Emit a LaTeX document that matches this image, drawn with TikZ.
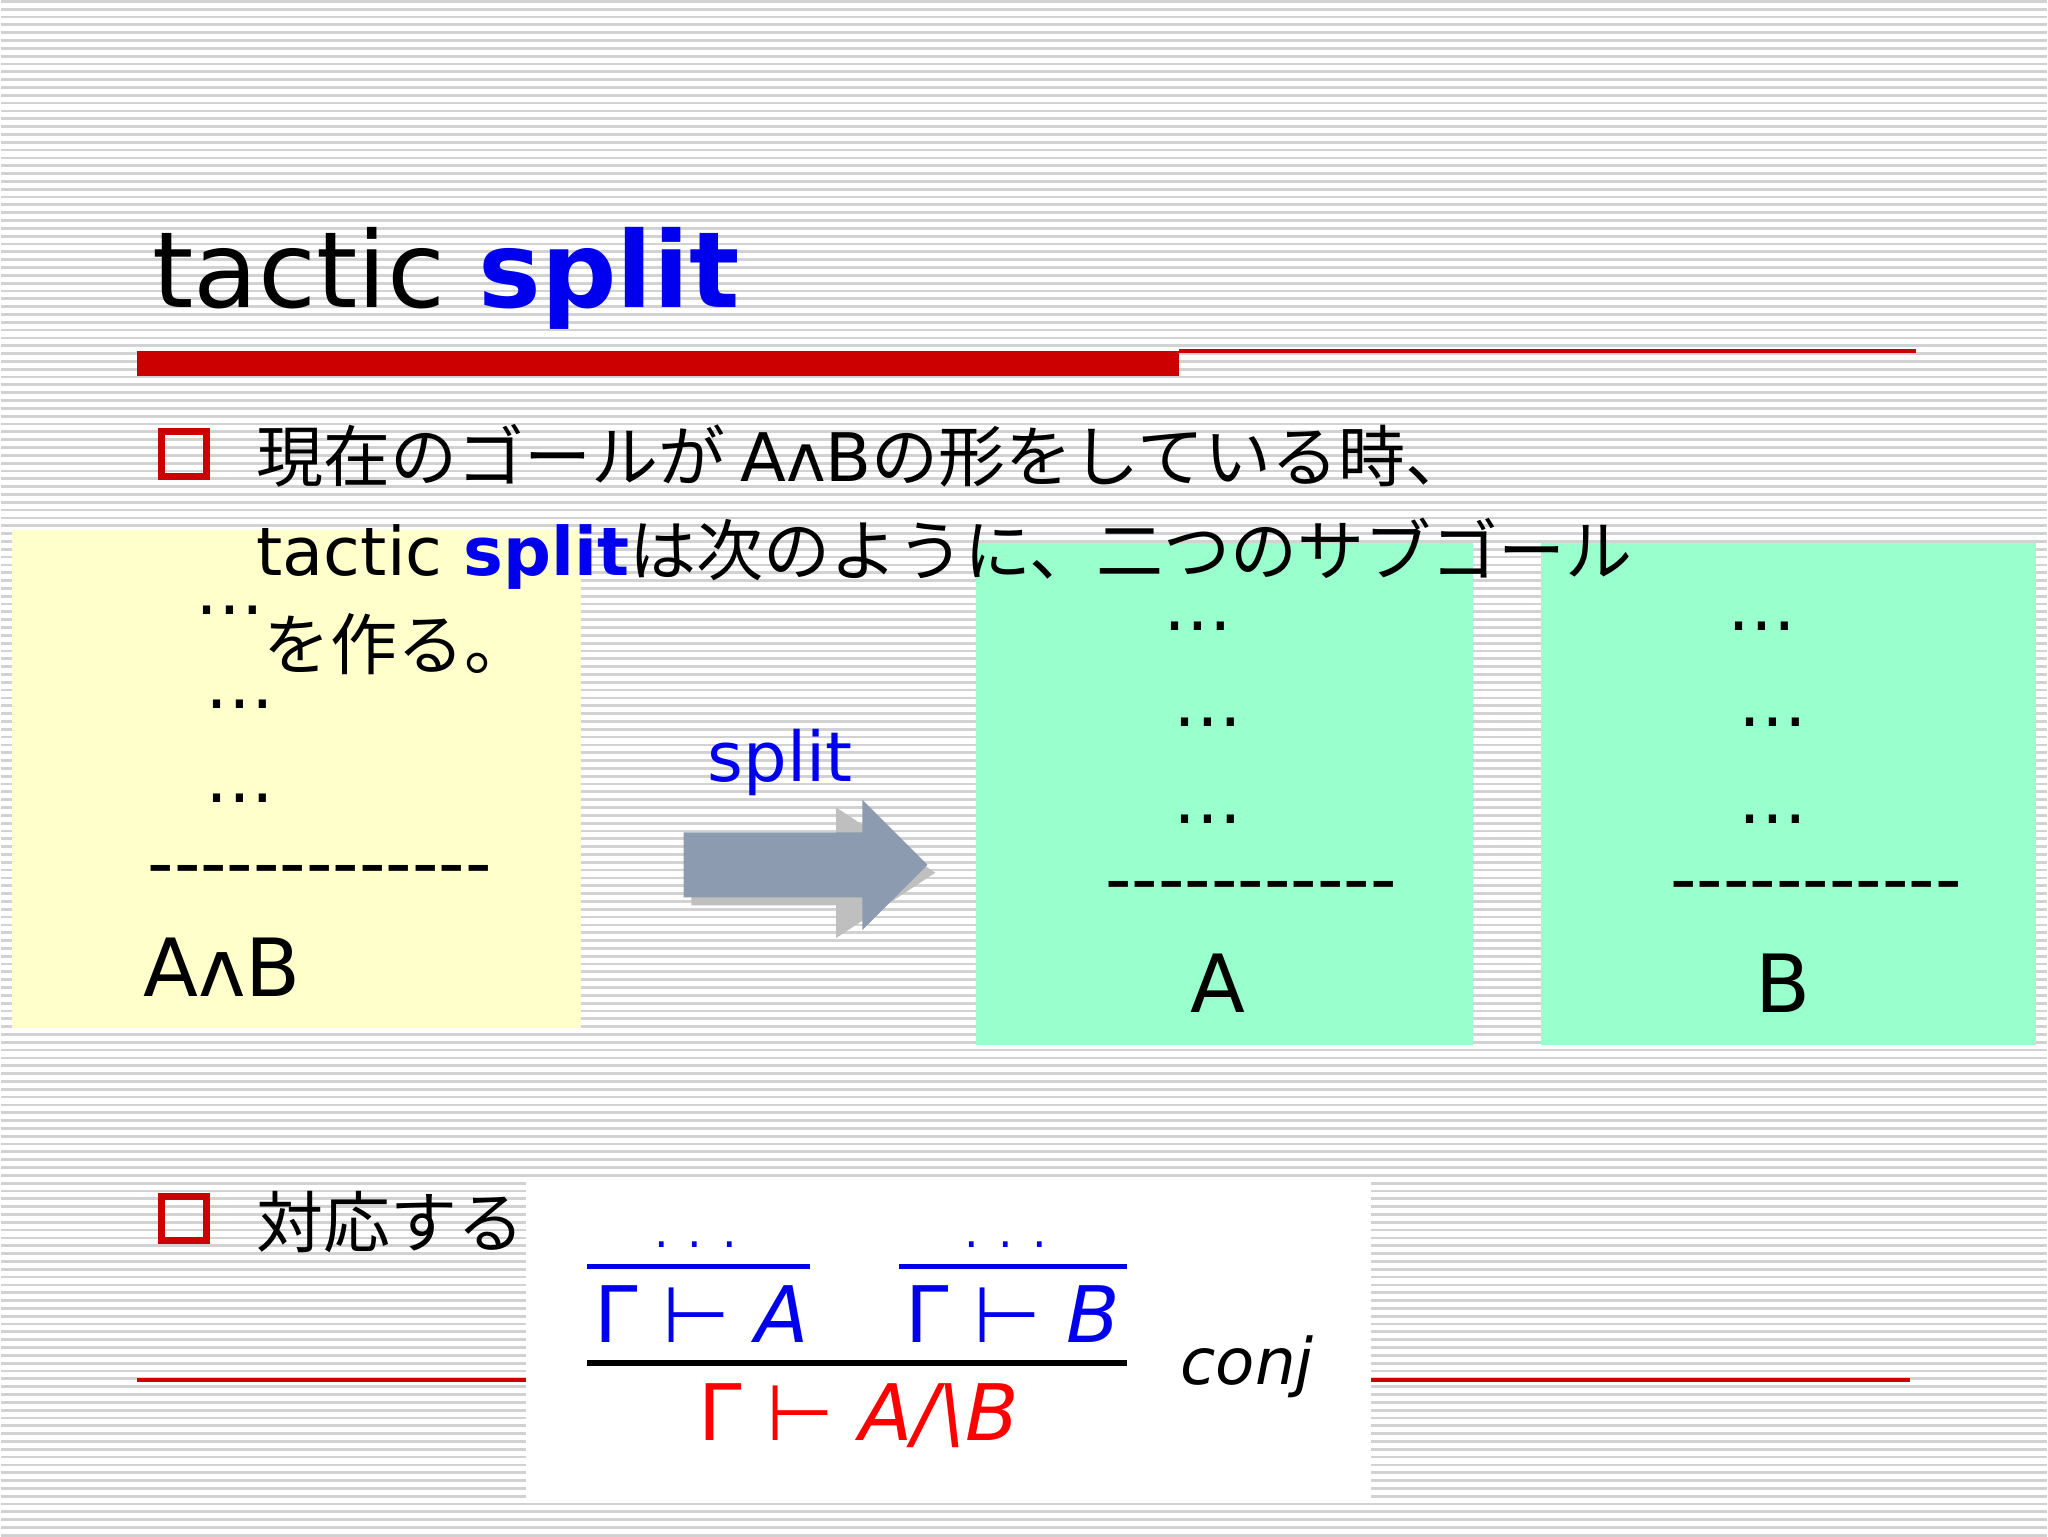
\documentclass[tikz,border=0pt]{standalone}
\usepackage{fontspec}
\setmainfont{DejaVu Sans}
\newfontfamily\jp{Noto Sans CJK JP}
\definecolor{myred}{HTML}{CC0000}
\definecolor{myblue}{HTML}{0000EE}
\definecolor{ybox}{HTML}{FFFFCC}
\definecolor{gbox}{HTML}{99FFCC}
\definecolor{arrg}{HTML}{8C9BB0}
\newcommand{\hy}{-{}}
\tikzset{body/.style={anchor=base west,inner sep=0pt,font=\fontsize{14.6}{18}\selectfont},
 dots/.style={anchor=base,inner sep=0pt,font=\fontsize{15}{18}\selectfont},
 dashline/.style={anchor=base,inner sep=0pt,font=\fontsize{16}{18}\selectfont},
 bul/.style={draw=myred,line width=1.6pt,minimum size=0.34cm,inner sep=0pt}}
\begin{document}
\begin{tikzpicture}[x=0.01cm,y=-0.01cm]
\fill[white] (0,0) rectangle (1568,1176);
\foreach \i in {0,6,...,1176}{\draw[gray!35,line width=0.6pt] (0,\i) -- (1568,\i);}
\node[anchor=base west,inner sep=0pt,font=\fontsize{23}{28}\selectfont] (title) at (115,235) {tactic \textcolor{myblue}{\bfseries split}};
\fill[myred] (104,268) rectangle (903,287);
\draw[myred,line width=0.8pt] (903,268) -- (1468,268);
\fill[ybox] (8,405) rectangle (444,787);
\fill[gbox] (747,415) rectangle (1128,800);
\fill[gbox] (1180,415) rectangle (1560,800);
\node[bul] (b1) at (140,347) {};
\node[bul] (b2) at (140,933) {};
\node[body] (l1) at (195,368) {\jp 現在のゴールが \rmfamily AʌB\jp の形をしている時、};
\node[body] (l2) at (195,440) {tactic \textcolor{myblue}{\bfseries split}\jp は次のように、二つのサブゴール};
\node[body] (l3) at (200,512) {\jp を作る。};
\node[dots] (y1) at (175,470) {…};
\node[dots] (y2) at (183,542) {…};
\node[dots] (y3) at (183,614) {…};
\node[dashline] (y4) at (244,680) {\hy\hy\hy\hy\hy\hy\hy\hy\hy\hy\hy\hy\hy};
\node[body] (y5) at (108,763) {\fontsize{17.5}{22}\selectfont AʌB};
\fill[black!25] (529,643) -- (640,643) -- (640,618) -- (716,668) -- (640,718) -- (640,693) -- (529,693) -- cycle;
\fill[arrg] (523,637) -- (660,637) -- (660,612) -- (710,662) -- (660,712) -- (660,687) -- (523,687) -- cycle;
\node[anchor=base,inner sep=0pt,text=myblue,font=\fontsize{15}{18}\selectfont] (sp) at (597,598) {split};
\foreach \x/\n in {917/a,1350/b}{
 \node[dots] (\n1) at (\x,482) {…};
 \node[dots] (\n2) at (\x+8,556) {…};
 \node[dots] (\n3) at (\x+8,630) {…};
 \node[dashline] (\n4) at (\x+41,692) {\hy\hy\hy\hy\hy\hy\hy\hy\hy\hy\hy};}
\node[anchor=base,inner sep=0pt,font=\fontsize{17.5}{22}\selectfont] (A) at (933,775) {A};
\node[anchor=base,inner sep=0pt,font=\fontsize{17.5}{22}\selectfont] (B) at (1366,775) {B};
\node[body] (l4) at (195,955) {\jp 対応する推論規則};
\draw[myred,line width=0.8pt] (104,1057) -- (1463,1057);
\fill[white] (402,905) rectangle (1050,1150);
\node[anchor=base,inner sep=0pt,text=myblue,font=\fontsize{10}{12}\selectfont] (d1) at (532,955) {. . .};
\node[anchor=base,inner sep=0pt,text=myblue,font=\fontsize{10}{12}\selectfont] (d2) at (770,955) {. . .};
\draw[myblue,line width=1.2pt] (449,970) -- (620,970);
\draw[myblue,line width=1.2pt] (688,970) -- (863,970);
\node[anchor=base,inner sep=0pt,text=myblue,font=\fontsize{17}{22}\selectfont] (ga) at (537,1028) {Γ ⊢ \textit{A}};
\node[anchor=base,inner sep=0pt,text=myblue,font=\fontsize{17}{22}\selectfont] (gb) at (775,1028) {Γ ⊢ \textit{B}};
\draw[line width=1.2pt] (449,1044) -- (863,1044);
\node[anchor=base,inner sep=0pt,text=red,font=\fontsize{17}{22}\selectfont] (gab) at (657,1103) {Γ ⊢ \textit{A/\textbackslash B}};
\node[anchor=base,inner sep=0pt,font=\fontsize{14}{18}\selectfont\itshape] (cj) at (955,1060) {conj};
\end{tikzpicture}
\end{document}
